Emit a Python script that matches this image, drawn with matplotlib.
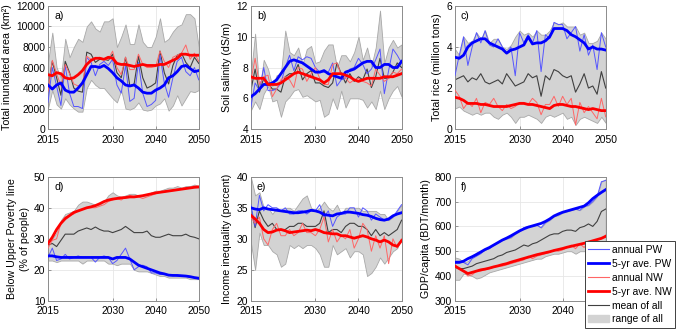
import numpy as np
import matplotlib
matplotlib.use("Agg")
import matplotlib.pyplot as plt
from matplotlib.lines import Line2D
from matplotlib.patches import Patch

years = list(range(2015, 2051))

# a) total inundated area (km2)
a_hi = [6500, 9400, 6000, 5000, 8800, 7000, 8000, 8800, 8500, 10000, 10500, 9800, 9500, 10500, 10500, 10800, 8000, 9000,
        10200, 8300, 8300, 10200, 8500, 8000, 8000, 9000, 10800, 8500, 8800, 9500, 10000, 10200, 11200, 11200, 10800, 8000]
a_lo = [2000, 3800, 2400, 2000, 3000, 2400, 2000, 1700, 1700, 4000, 4800, 4300, 4000, 4000, 3500, 3000, 2600, 3800,
        2000, 1900, 2100, 2600, 1900, 1800, 1900, 2300, 2500, 3000, 1800, 2300, 3300, 2300, 3000, 3700, 3600, 3800]
a_mean = [4000, 6600, 5000, 3300, 6600, 5500, 4000, 3700, 3600, 7500, 7300, 6500, 6800, 6800, 6700, 7300, 5500, 5000,
          7000, 4200, 4400, 7100, 5000, 4000, 4200, 4500, 7600, 5500, 4400, 6200, 7200, 7400, 6500, 6000, 7000, 6400]
a_pw = [2600, 6000, 4200, 2300, 6200, 3500, 2200, 2200, 2000, 7000, 6500, 5200, 6300, 6600, 6200, 6800, 4300, 3500,
        6200, 2700, 3000, 6500, 3500, 2200, 2400, 2800, 7200, 4500, 3100, 5000, 6600, 7000, 5600, 5200, 6000, 4800]
a_pw5 = [4300, 3900, 4300, 4500, 3800, 3600, 3600, 4000, 4500, 5300, 6100, 6100, 6000, 6200, 5900, 5500, 5000, 4700,
         4300, 4200, 4300, 4000, 3600, 3500, 3500, 3800, 4000, 4300, 5000, 5200, 5600, 6100, 6200, 5900, 5600, 5700]
a_nw = [3700, 6700, 5400, 4200, 6300, 5400, 4400, 4200, 4300, 7100, 6800, 6900, 7000, 6800, 6800, 7600, 6000, 5300,
        7000, 5800, 5800, 7300, 6300, 6000, 6000, 6100, 7600, 6600, 6000, 7000, 7200, 7400, 8200, 6800, 7400, 6600]
a_nw5 = [5300, 5200, 5500, 5400, 5000, 4900, 5000, 5300, 5700, 6300, 6700, 6900, 6900, 6800, 7000, 6900, 6400, 6300,
         6300, 6200, 6100, 6200, 6300, 6200, 6200, 6200, 6300, 6300, 6500, 6700, 6900, 7300, 7300, 7200, 7200, 7200]

# b) soil salinity (dS/m)
b_hi = [7.5, 10.2, 6.5, 8.5, 7.9, 6.8, 7.5, 7.6, 10.4, 9.0, 8.8, 9.3, 8.2, 9.2, 9.4, 8.3, 8.4, 9.1,
        9.5, 9.5, 8.0, 8.8, 8.8, 8.4, 9.0, 10.0, 8.5, 9.3, 8.1, 9.3, 11.7, 8.3, 9.3, 9.8, 9.3, 9.5]
b_lo = [5.2, 5.8, 5.3, 6.3, 6.8, 5.8, 5.9, 4.8, 5.8, 6.1, 6.5, 6.6, 6.1, 6.2, 6.0, 5.8, 5.9, 4.8,
        5.0, 6.0, 5.3, 6.5, 5.4, 6.0, 6.0, 6.0, 5.9, 5.4, 5.8, 5.3, 6.5, 5.3, 6.0, 6.5, 6.8, 6.1]
b_mean = [6.5, 7.9, 6.4, 7.3, 7.0, 6.6, 6.6, 6.4, 7.4, 7.6, 7.6, 8.2, 7.2, 7.6, 7.8, 7.0, 7.0, 6.8,
          6.7, 7.0, 8.3, 7.6, 7.0, 7.6, 7.1, 7.4, 7.2, 7.9, 6.7, 7.4, 8.6, 7.3, 7.3, 7.7, 8.3, 8.0]
b_pw = [5.4, 7.0, 6.5, 8.0, 6.5, 6.5, 6.6, 7.0, 8.0, 8.8, 7.8, 8.7, 8.5, 8.7, 8.6, 8.0, 7.7, 7.7,
        7.7, 8.3, 6.8, 7.2, 7.3, 7.9, 8.0, 8.6, 8.2, 7.6, 7.9, 8.5, 9.2, 6.3, 7.8, 9.2, 8.8, 8.3]
b_pw5 = [6.1, 6.3, 6.6, 6.9, 6.9, 7.0, 7.2, 7.6, 8.0, 8.4, 8.5, 8.4, 8.3, 8.1, 7.9, 7.7, 7.7, 7.8,
         7.6, 7.5, 7.4, 7.3, 7.7, 7.8, 7.9, 8.1, 8.3, 8.4, 8.4, 8.0, 8.0, 8.2, 8.2, 8.0, 8.0, 8.4]
b_nw = [7.1, 8.6, 6.9, 7.4, 7.5, 6.1, 6.6, 7.2, 7.4, 7.2, 6.7, 8.0, 7.9, 7.1, 7.6, 8.0, 7.3, 6.9,
        6.9, 8.2, 8.3, 7.5, 7.3, 7.0, 7.2, 7.3, 7.1, 7.0, 6.8, 7.9, 7.5, 7.1, 7.3, 7.7, 7.6, 7.9]
b_nw5 = [7.4, 7.3, 7.3, 7.3, 6.9, 6.9, 6.9, 7.0, 7.2, 7.4, 7.6, 7.7, 7.6, 7.5, 7.4, 7.3, 7.2, 7.0,
         7.2, 7.6, 7.6, 7.6, 7.5, 7.4, 7.2, 7.1, 7.2, 7.3, 7.3, 7.3, 7.3, 7.4, 7.4, 7.4, 7.5, 7.6]

# c) total rice (million tons)
c_hi = [3.9, 3.6, 4.5, 4.2, 4.3, 4.7, 4.4, 4.8, 4.2, 4.4, 4.4, 4.0, 3.9, 4.1, 4.5, 4.8, 4.6, 4.7,
        4.5, 4.8, 4.6, 4.6, 4.8, 5.2, 5.1, 5.2, 5.0, 5.0, 5.0, 4.6, 4.7, 4.2, 4.2, 4.3, 4.7, 4.4]
c_lo = [1.0, 1.1, 0.9, 0.8, 0.7, 0.8, 0.7, 0.8, 0.8, 0.6, 0.5, 0.7, 0.8, 0.6, 0.3, 0.6, 0.6, 0.7,
        0.6, 0.5, 0.3, 0.6, 0.7, 0.6, 0.7, 0.8, 0.5, 0.6, 0.2, 0.5, 0.6, 0.5, 0.4, 0.3, 0.6, 0.3]
c_mean = [2.4, 2.5, 2.6, 2.3, 2.5, 2.4, 2.7, 2.3, 2.2, 2.3, 2.4, 2.2, 2.7, 2.4, 2.1, 2.2, 2.3, 2.7,
          2.5, 2.6, 1.6, 2.6, 2.4, 2.9, 2.8, 2.6, 2.5, 2.6, 1.8, 2.2, 2.7, 2.0, 2.1, 1.7, 2.8, 2.0]
c_pw = [2.6, 3.6, 4.5, 3.1, 4.0, 4.7, 4.2, 4.8, 4.1, 4.0, 4.4, 4.0, 3.7, 4.0, 2.6, 4.7, 4.2, 4.6,
        4.2, 4.8, 2.8, 4.6, 4.4, 5.2, 5.1, 5.1, 4.4, 4.7, 5.0, 3.8, 4.6, 3.6, 4.1, 2.9, 4.7, 4.0]
c_pw5 = [3.5, 3.45, 3.6, 4.0, 4.2, 4.3, 4.4, 4.4, 4.2, 4.1, 4.0, 3.9, 3.7, 3.85, 3.9, 4.0, 4.1, 4.5,
         4.15, 4.2, 4.2, 4.3, 4.5, 4.9, 4.9, 4.9, 4.8, 4.6, 4.5, 4.35, 4.2, 3.9, 4.0, 3.9, 3.9, 3.85]
c_nw = [1.9, 1.6, 1.0, 1.3, 1.1, 1.5, 0.8, 1.3, 1.2, 1.5, 1.1, 0.9, 1.2, 1.0, 1.1, 1.3, 1.3, 1.2,
        1.5, 1.3, 0.7, 1.2, 1.2, 1.6, 1.1, 1.6, 1.2, 1.5, 0.2, 1.3, 0.8, 1.1, 0.8, 0.5, 1.5, 0.6]
c_nw5 = [1.55, 1.5, 1.4, 1.25, 1.25, 1.25, 1.2, 1.2, 1.15, 1.1, 1.1, 1.1, 1.1, 1.15, 1.2, 1.25, 1.25, 1.2,
         1.2, 1.15, 1.1, 1.05, 1.0, 1.15, 1.2, 1.2, 1.15, 1.1, 1.1, 1.05, 1.0, 0.95, 1.0, 0.95, 0.9, 0.9]

# d) below upper poverty line (% of people)
d_hi = [29, 30, 32, 36, 38, 38.5, 39, 41, 42, 42, 41.5, 41, 41, 42, 44, 45, 44, 43.5,
        44, 44.5, 44.5, 44, 44, 44, 45, 45.5, 45.5, 46, 46.5, 46.5, 47, 46.5, 47, 47, 47.5, 47]
d_lo = [23, 23, 22.5, 23, 23, 23, 23, 23, 22, 23, 23, 23, 23, 23, 22, 22, 21.5, 22,
        22, 22, 20, 19.5, 19.5, 19.5, 19, 18.5, 18, 18, 17.5, 17.5, 17.5, 17.5, 17.5, 17, 17, 17]
d_mean = [28, 28.5, 27.5, 29.5, 31.5, 31.5, 31.5, 32.5, 33, 33.5, 33, 33.8, 33, 32.5, 32.5, 32, 32.5, 33,
          34, 33, 32, 32, 32, 32.5, 31, 30.5, 30.5, 31, 31.5, 31, 31, 31, 31.5, 30.8, 30.5, 30]
d_pw = [24, 27, 23, 23.5, 25, 23.5, 24, 24.5, 24, 24, 24, 22.5, 24, 24.5, 24, 22, 23, 25,
        27, 23.5, 20, 21, 21.5, 21, 19, 19, 18.5, 18.5, 18.5, 18.5, 18, 18, 18, 17.5, 17.5, 17]
d_pw5 = [24.5, 24.5, 24.2, 24, 24, 24, 24, 24, 24, 24, 24, 24, 24, 24, 24, 23.5, 24, 24,
         24, 23.5, 22.5, 21.5, 21, 20.5, 20, 19.5, 19, 18.7, 18.3, 18.2, 18.2, 18.1, 18, 17.8, 17.5, 17.3]
d_nw = [27, 29.5, 30, 35, 37, 37.5, 38, 39, 39.5, 40, 40, 40, 40.5, 41, 42, 42.5, 43, 42.5,
        43.5, 44, 43.5, 43.5, 43, 43.5, 44, 44.5, 45, 45, 45.5, 45.5, 46, 46, 46.5, 46.5, 47, 47]
d_nw5 = [28.5, 30.5, 33, 35, 36.5, 37.5, 38.5, 39, 39.5, 40, 40.3, 40.7, 41.3, 42, 42.5, 42.8, 43, 43.2,
         43.3, 43.5, 43.5, 43.7, 43.9, 44.2, 44.5, 44.8, 45, 45.2, 45.4, 45.6, 45.8, 46, 46.2, 46.4, 46.6, 46.7]

# e) income inequality (percent)
e_hi = [40, 37, 37.5, 35, 35, 34, 35, 34.5, 35, 35, 34.5, 35.5, 36.5, 37, 35, 34.5, 35, 36,
        35, 34.5, 35.5, 34, 35, 35, 35, 35, 34.5, 34.5, 34.5, 34.5, 34, 34, 33, 33.5, 34.5, 35.5]
e_lo = [29.5, 25, 31, 29, 29, 28, 27.5, 25.5, 26, 29, 28.5, 29, 28.5, 29, 29, 28.5, 27.5, 25.5,
        25.5, 29, 27.5, 28, 28.5, 27, 28, 28, 27.5, 24, 24.5, 25.5, 27, 26, 27, 28, 28.5, 30]
e_mean = [35, 31.8, 34.5, 33, 32, 32.5, 31.5, 31.5, 31.5, 32, 32, 32.5, 32.5, 32, 32, 32, 32.5, 34.5,
          31, 31.5, 31.5, 31, 32, 32.5, 32.5, 32, 32, 31.5, 30.5, 31.5, 30.5, 31, 30.5, 31, 31.5, 33]
e_pw = [35.5, 32, 37, 34.5, 35.5, 35, 35, 34.5, 35, 34, 34, 34.5, 34.5, 34, 34.5, 34.5, 35.5, 33.5,
        34.5, 32, 33.5, 34, 34, 35, 35, 33.5, 35, 34.5, 33, 34, 33.5, 33, 33, 33.5, 34.5, 35.5]
e_pw5 = [35, 34.8, 34.7, 35, 34.8, 34.7, 34.6, 34.5, 34.4, 34.3, 34.2, 34.2, 34.3, 34.4, 34.6, 34.5, 34.3, 33.9,
         33.8, 33.7, 34.0, 34.1, 34.3, 34.3, 34.2, 34.1, 33.9, 33.8, 33.6, 33.3, 33.1, 33.0, 33.2, 33.7, 34.0, 34.2]
e_nw = [33.5, 32.5, 33.5, 30, 29, 31.5, 32.5, 30.5, 30.5, 31.5, 30.5, 31, 32.5, 31, 31, 30.5, 31.5, 33.5,
        29.5, 31.5, 29.5, 30.5, 30, 31.5, 28.5, 30, 32.5, 31.5, 28, 30.5, 28.5, 30.5, 26, 30, 28.5, 30]
e_nw5 = [33.8, 33.2, 32.5, 31.5, 31, 31.1, 31.4, 31.5, 31.3, 31, 31.1, 31.2, 31.3, 31.4, 31.3, 31.5, 31.3, 31,
         30.9, 30.8, 30.8, 30.5, 30.5, 30.3, 30.1, 30.3, 30.5, 30.3, 30, 29.8, 29.5, 29.8, 29.5, 29, 28.8, 29.7]

# f) GDP per capita (BDT/month)
f_hi = [475, 470, 455, 460, 480, 495, 500, 505, 515, 525, 535, 545, 550, 555, 570, 580, 595, 600,
        600, 605, 595, 615, 625, 640, 645, 655, 660, 665, 670, 665, 680, 685, 700, 720, 780, 790]
f_lo = [385, 385, 410, 405, 400, 390, 395, 405, 415, 420, 425, 430, 435, 440, 445, 450, 455, 460,
        465, 470, 470, 480, 485, 490, 490, 495, 500, 500, 490, 500, 500, 510, 510, 520, 520, 530]
f_mean = [435, 430, 430, 435, 440, 450, 455, 460, 465, 470, 480, 485, 495, 500, 505, 515, 525, 520,
          530, 535, 545, 555, 565, 570, 570, 580, 585, 585, 580, 595, 600, 610, 600, 620, 660, 670]
f_pw = [460, 460, 455, 445, 470, 480, 490, 505, 510, 525, 535, 545, 550, 555, 570, 580, 595, 600,
        600, 605, 595, 615, 625, 640, 645, 655, 660, 665, 670, 665, 680, 685, 700, 720, 780, 785]
f_pw5 = [455, 455, 460, 470, 478, 487, 497, 507, 515, 525, 535, 545, 553, 562, 572, 582, 590, 597,
         602, 607, 612, 620, 630, 642, 650, 657, 662, 667, 672, 677, 682, 695, 712, 725, 737, 748]
f_nw = [445, 430, 420, 400, 405, 420, 420, 425, 430, 435, 440, 440, 445, 450, 455, 460, 465, 480,
        470, 480, 485, 490, 495, 505, 500, 505, 515, 525, 510, 530, 515, 540, 535, 545, 550, 565]
f_nw5 = [440, 430, 420, 410, 415, 420, 425, 428, 432, 437, 441, 446, 450, 456, 461, 466, 471, 476,
         481, 486, 490, 494, 498, 503, 507, 511, 516, 520, 524, 528, 532, 537, 542, 547, 552, 560]

panels = [
    ("a)", "Total inundated area (km²)", (0, 12000), np.arange(0, 12001, 2000),
     a_lo, a_hi, a_mean, a_pw, a_pw5, a_nw, a_nw5),
    ("b)", "Soil salinity (dS/m)", (4, 12), [4, 6, 8, 10, 12],
     b_lo, b_hi, b_mean, b_pw, b_pw5, b_nw, b_nw5),
    ("c)", "Total rice (million tons)", (0, 6), [0, 2, 4, 6],
     c_lo, c_hi, c_mean, c_pw, c_pw5, c_nw, c_nw5),
    ("d)", "Below Upper Poverty line\n(% of people)", (10, 50), [10, 20, 30, 40, 50],
     d_lo, d_hi, d_mean, d_pw, d_pw5, d_nw, d_nw5),
    ("e)", "Income inequality (percent)", (20, 40), [20, 25, 30, 35, 40],
     e_lo, e_hi, e_mean, e_pw, e_pw5, e_nw, e_nw5),
    ("f)", "GDP/capita (BDT/month)", (300, 800), [300, 400, 500, 600, 700, 800],
     f_lo, f_hi, f_mean, f_pw, f_pw5, f_nw, f_nw5),
]

col_pw = "#0000ff"
col_pw_thin = "#5555ff"
col_nw = "#ff0000"
col_nw_thin = "#ff6666"
col_mean = "#404040"
col_fill = "#d3d3d3"
col_edge = "#a8a8a8"

plt.rcParams.update({
    "font.family": ["Liberation Sans", "DejaVu Sans"],
    "font.size": 7.4,
})

fig = plt.figure(figsize=(6.76, 3.31), dpi=100)

lefts = [0.071, 0.371, 0.673]
width = 0.223
bottoms = [0.61, 0.091]
height = [0.372, 0.375]

for i, (tag, ylabel, ylim, yticks, lo, hi, mean, pw, pw5, nw, nw5) in enumerate(panels):
    row, col = divmod(i, 3)
    ax = fig.add_axes([lefts[col], bottoms[row], width, height[row]])
    ax.fill_between(years, lo, hi, color=col_fill, edgecolor=col_edge, linewidth=0.6, zorder=1)
    ax.plot(years, mean, color=col_mean, lw=0.8, zorder=2)
    ax.plot(years, pw, color=col_pw_thin, lw=0.7, zorder=3)
    ax.plot(years, nw, color=col_nw_thin, lw=0.7, zorder=3)
    ax.plot(years, pw5, color=col_pw, lw=2.0, zorder=4)
    ax.plot(years, nw5, color=col_nw, lw=2.0, zorder=4)
    ax.set_xlim(2015, 2050)
    ax.set_ylim(*ylim)
    ax.set_xticks([2015, 2030, 2040, 2050])
    ax.set_yticks(yticks)
    ax.grid(True, color="#e6e6e6", lw=0.6, zorder=0)
    ax.set_axisbelow(True)
    ax.tick_params(direction="in", length=2.5, width=0.5, color="#707070", pad=2, labelsize=7.4)
    ax.tick_params(axis="x", pad=4)
    for s in ax.spines.values():
        s.set_color("#8c8c8c")
        s.set_linewidth(0.7)
    ax.set_ylabel(ylabel, fontsize=7.7, labelpad=3, linespacing=1.35)
    ax.text(0.04, 0.96, tag, transform=ax.transAxes, ha="left", va="top", fontsize=7.6)

handles = [
    Line2D([], [], color=col_pw_thin, lw=0.8),
    Line2D([], [], color=col_pw, lw=2.0),
    Line2D([], [], color=col_nw_thin, lw=0.8),
    Line2D([], [], color=col_nw, lw=2.0),
    Line2D([], [], color=col_mean, lw=0.8),
    Patch(facecolor=col_fill, edgecolor=col_fill),
]
labels = ["annual PW", "5-yr ave. PW", "annual NW", "5-yr ave. NW", "mean of all", "range of all"]
leg = fig.legend(handles, labels, loc="lower right", bbox_to_anchor=(0.999, 0.009),
                 frameon=True, fancybox=False, fontsize=7.4, handlelength=2.0,
                 handletextpad=0.3, borderpad=0.35, labelspacing=0.38, borderaxespad=0)
leg.get_frame().set_edgecolor("#404040")
leg.get_frame().set_linewidth(0.7)
leg.get_frame().set_alpha(1)

fig.savefig("out.png", dpi=100)
